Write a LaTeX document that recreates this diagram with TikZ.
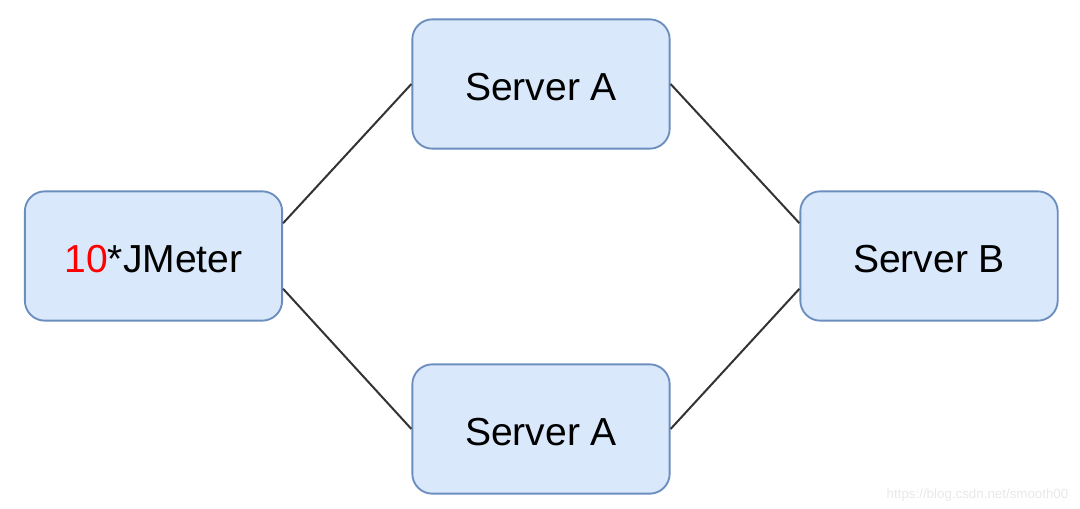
\documentclass[tikz,border=0pt]{standalone}
\usepackage{xcolor}
\usepackage{fontspec}
\setmainfont{Liberation Sans}
\usepackage{tikz}
\usetikzlibrary{positioning,calc}
\definecolor{dioblue}{HTML}{DAE8FC}
\definecolor{diostroke}{HTML}{6C8EBF}
\definecolor{dioline}{HTML}{333333}
\definecolor{wmgrey}{HTML}{E8E8E8}

\begin{document}
\begin{tikzpicture}[x=0.75pt,y=-0.75pt,
    srv/.style={draw=diostroke,fill=dioblue,line width=1.4pt,rounded corners=15pt,
      minimum width=193pt,minimum height=97pt,text height=25pt,text depth=0pt,
      font=\fontsize{29.3}{34}\selectfont},
    link/.style={draw=dioline,line width=1.5pt}]
  \useasboundingbox (0,0) rectangle (1080,509);
  \foreach \n/\x/\y/\lab in {
    jm/153.5/256/{\textcolor{red}{10}*JMeter},
    sa1/541/84/{Server A},
    sa2/541/429/{Server A},
    sb/929/256/{Server B}}
    {\node[srv] (\n) at (\x,\y) {\lab};}
  % connectors
  \draw[link] ($(jm.north east)!0.25!(jm.south east)$) -- (sa1.west);
  \draw[link] ($(jm.north east)!0.75!(jm.south east)$) -- (sa2.west);
  \draw[link] (sa1.east) -- ($(sb.north west)!0.25!(sb.south west)$);
  \draw[link] (sa2.east) -- ($(sb.north west)!0.75!(sb.south west)$);
  \node[text=wmgrey,font=\fontsize{10}{12}\selectfont,anchor=east] (wm) at (1073,495) {https://blog.csdn.net/smooth00};
\end{tikzpicture}
\end{document}
